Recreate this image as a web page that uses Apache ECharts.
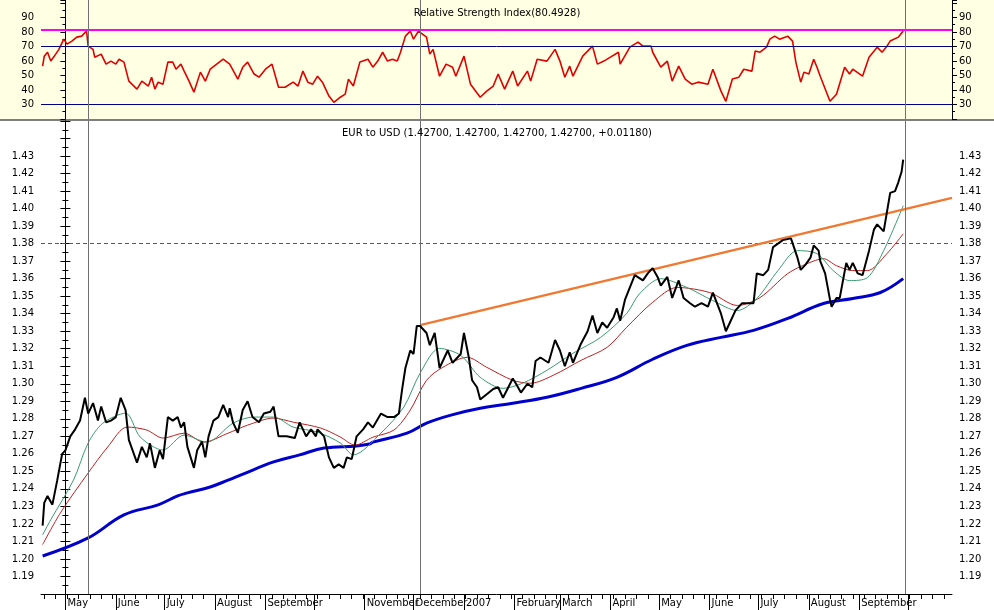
<!DOCTYPE html>
<html>
<head>
<meta charset="utf-8">
<script src="https://cdn.jsdelivr.net/npm/echarts@6/dist/echarts.min.js"></script>
<style>html,body{margin:0;padding:0;background:#fff}#chart{width:994px;height:610px}</style>
</head>
<body>
<div id="chart"></div>
<script>
// x values: calendar days counted from 2006-05-01
var price = [[-14,1.219],[-13,1.232],[-11,1.236],[-8,1.231],[-5,1.245],[-2,1.260],[0,1.262],[3,1.270],[6,1.274],[9,1.279],[12,1.292],[14,1.283],[17,1.289],[20,1.279],[22,1.287],[25,1.278],[28,1.279],[31,1.281],[34,1.292],[37,1.285],[39,1.268],[44,1.255],[47,1.264],[50,1.258],[52,1.266],[55,1.252],[58,1.262],[60,1.257],[63,1.281],[66,1.279],[69,1.281],[71,1.275],[73,1.278],[75,1.264],[79,1.252],[81,1.262],[84,1.267],[86,1.258],[88,1.270],[91,1.279],[94,1.281],[97,1.288],[100,1.281],[101,1.286],[103,1.278],[106,1.272],[109,1.285],[112,1.290],[115,1.281],[119,1.278],[122,1.283],[126,1.284],[128,1.287],[131,1.270],[136,1.270],[141,1.269],[144,1.278],[148,1.270],[151,1.274],[154,1.270],[155,1.274],[159,1.270],[162,1.258],[165,1.252],[168,1.254],[171,1.252],[173,1.258],[176,1.257],[179,1.270],[183,1.274],[186,1.278],[189,1.275],[194,1.283],[198,1.281],[202,1.281],[205,1.283],[207,1.297],[209,1.309],[212,1.319],[214,1.317],[216,1.333],[218,1.333],[222,1.329],[224,1.322],[227,1.329],[230,1.309],[235,1.319],[238,1.312],[243,1.317],[245,1.329],[248,1.315],[250,1.302],[253,1.298],[255,1.291],[259,1.294],[263,1.297],[266,1.298],[269,1.292],[275,1.303],[277,1.300],[280,1.295],[284,1.300],[287,1.298],[289,1.313],[292,1.315],[297,1.312],[301,1.325],[304,1.319],[307,1.310],[310,1.318],[312,1.312],[317,1.323],[321,1.330],[324,1.339],[327,1.329],[330,1.335],[333,1.332],[337,1.338],[339,1.343],[341,1.336],[344,1.348],[350,1.362],[355,1.359],[358,1.363],[361,1.366],[364,1.361],[366,1.356],[370,1.361],[373,1.349],[377,1.359],[380,1.349],[384,1.346],[387,1.344],[391,1.346],[395,1.344],[398,1.352],[403,1.340],[406,1.330],[409,1.336],[412,1.342],[416,1.346],[420,1.346],[423,1.346],[425,1.363],[429,1.362],[432,1.365],[435,1.378],[438,1.380],[441,1.382],[446,1.383],[447,1.383],[450,1.372],[452,1.365],[455,1.368],[458,1.372],[460,1.379],[463,1.376],[464,1.370],[467,1.363],[470,1.348],[471,1.344],[474,1.349],[476,1.349],[478,1.359],[480,1.369],[482,1.365],[484,1.369],[487,1.363],[490,1.362],[494,1.376],[497,1.388],[499,1.391],[503,1.387],[505,1.398],[507,1.409],[510,1.410],[512,1.415],[514,1.421],[515,1.428]];

var maFast = [[-14,1.2138],[-9,1.2224],[5,1.2451],[14,1.2662],[23,1.2775],[37,1.2832],[46,1.2696],[60,1.2622],[73,1.2707],[87,1.2667],[103,1.2775],[116,1.281],[128,1.281],[140,1.2753],[155,1.2724],[169,1.2662],[177,1.2594],[194,1.2719],[208,1.2867],[218,1.306],[230,1.3202],[243,1.3162],[255,1.3037],[269,1.2974],[281,1.3003],[296,1.3077],[312,1.3174],[329,1.3265],[345,1.3401],[353,1.3515],[366,1.36],[382,1.355],[398,1.3475],[413,1.3418],[425,1.3487],[438,1.3646],[450,1.376],[462,1.3743],[472,1.3646],[482,1.3589],[493,1.3606],[503,1.376],[515,1.4016]];

var maMid = [[-14,1.2082],[-3,1.2264],[14,1.2491],[26,1.2639],[38,1.2753],[50,1.2736],[60,1.269],[73,1.2718],[85,1.2667],[100,1.2718],[112,1.2764],[128,1.2804],[140,1.2781],[157,1.2747],[169,1.2696],[178,1.265],[189,1.2695],[202,1.2736],[212,1.285],[222,1.302],[232,1.3094],[247,1.3151],[259,1.3094],[275,1.302],[286,1.3003],[300,1.3049],[317,1.3134],[333,1.3208],[345,1.3322],[361,1.3465],[376,1.355],[396,1.3521],[413,1.3447],[427,1.3492],[444,1.3629],[456,1.3686],[466,1.3714],[474,1.3674],[484,1.3646],[493,1.3646],[505,1.3743],[515,1.3856]];

var maSlow = [[-14,1.2017],[14,1.212],[36,1.2252],[57,1.2309],[69,1.2360],[75,1.2377],[89,1.2411],[100,1.2450],[108,1.2480],[128,1.2554],[144,1.2594],[159,1.2633],[179,1.2645],[187,1.2656],[189,1.2667],[210,1.2718],[222,1.2775],[237,1.2821],[255,1.286],[275,1.2889],[296,1.2923],[317,1.2974],[339,1.3037],[361,1.3140],[382,1.3219],[403,1.3265],[423,1.3305],[444,1.3373],[466,1.3458],[484,1.3487],[501,1.3521],[515,1.36]];

var rsi = [[-14,56.4],[-13,63.3],[-11,66],[-9,60],[-7,63],[-4,68],[-1,75],[1,71.6],[4,73.7],[7,76.4],[10,77.1],[13,80.6],[14,70.2],[17,68],[18,62.6],[22,64.7],[25,57.8],[28,59.9],[31,57.8],[33,61.2],[36,59.2],[39,46.1],[44,40.6],[47,46.1],[51,42.7],[53,48.8],[55,40.6],[57,45.4],[60,44],[63,59.2],[66,59.2],[68,54.3],[71,57.8],[73,53],[76,46.1],[79,38.5],[83,52.3],[86,46.1],[89,54.3],[93,57.8],[97,61.2],[101,57.8],[106,47.5],[109,55.7],[112,59.2],[116,51],[119,48.8],[123,54.3],[127,57.8],[131,41.9],[135,41.9],[140,45.4],[143,42.7],[146,53],[149,45.4],[152,44],[155,49.5],[158,45.4],[162,35.8],[165,31.5],[169,35],[172,37.1],[174,47.5],[177,42.7],[181,59.2],[186,61.2],[189,55.7],[192,59.9],[195,66],[198,59.9],[201,61.2],[204,59.9],[206,66],[209,77.1],[212,80.6],[214,75],[217,80.6],[222,76.4],[224,64.7],[226,68],[230,49.5],[234,57.8],[238,55.7],[240,49.5],[245,63.3],[249,44],[255,35],[259,39.2],[263,42.7],[266,51],[270,40.6],[275,53],[278,42.7],[284,53],[286,46.1],[290,61.2],[296,59.9],[301,68],[304,59.9],[307,48.8],[310,56.4],[312,49.5],[318,63.3],[324,70.2],[327,57.8],[331,59.9],[335,62.6],[340,66],[341,57.8],[347,69.5],[352,73],[355,70.2],[360,70.2],[361,66],[366,55.7],[370,59.9],[373,46.1],[377,56.4],[381,47.5],[385,44],[389,45.4],[395,44],[398,54.3],[403,39.2],[406,32.2],[410,47.5],[414,48.8],[417,54.3],[422,53],[424,66.8],[427,66],[431,69.5],[433,75],[436,77.1],[439,75],[444,77.1],[447,73.7],[449,59.2],[452,45.4],[454,52.3],[457,51],[460,61.2],[462,55.7],[464,49.5],[470,32.2],[474,37.1],[479,55.7],[482,51],[484,54.3],[490,49.5],[494,62.6],[499,69.5],[502,66],[505,70.2],[507,73.7],[512,76.4],[515,80.6]];

var monthDays = [0,31,61,92,123,153,184,214,245,276,304,335,365,396,426,457,488,518];
var monthNames = ['May','June','July','August','September','','November','December','2007','February','March','April','May','June','July','August','September',''];
var markDays = [14, 218, 516];
var xMin = -15, xMax = 545;

var weekDays = [];
for (var d = -13; d <= xMax; d += 7) weekDays.push(d);

var myChart = echarts.init(document.getElementById('chart'));
var font = 'DejaVu Sans';
var lbl = { color: '#000', fontSize: 10, fontFamily: font };

function xAx(grid, withLabels) {
    return {
        type: 'value', gridIndex: grid, min: xMin, max: xMax,
        axisLine: { show: withLabels, lineStyle: { color: '#000' } },
        axisTick: { show: false },
        axisLabel: { show: false },
        splitLine: { show: false }
    };
}
function yAx(grid, pos, min, max, interval, hide) {
    return {
        type: 'value', gridIndex: grid, position: pos, min: min, max: max, interval: interval,
        axisLine: { show: true, lineStyle: { color: '#000' } },
        axisTick: { show: true, length: 5, lineStyle: { color: '#000' } },
        minorTick: { show: true, splitNumber: 2, length: 3, lineStyle: { color: '#000' } },
        axisLabel: Object.assign({}, lbl, { margin: 7, formatter: function (v) {
            return hide(v) ? '' : (interval < 1 ? v.toFixed(2) : String(v));
        } }),
        splitLine: { show: false }
    };
}

var option = {
    animation: false,
    backgroundColor: '#fff',
    graphic: [
        { type: 'rect', z: -10, shape: { x: 0, y: 0, width: 994, height: 120 }, style: { fill: '#FFFFE3' } },
        { type: 'line', z: 10, shape: { x1: 0, y1: 120, x2: 994, y2: 120 }, style: { stroke: '#000', lineWidth: 1 } }
    ],
    title: [
        { text: 'Relative Strength Index(80.4928)', left: 'center', top: 3, textStyle: { fontSize: 10, fontWeight: 'normal', fontFamily: font, color: '#000' } },
        { text: 'EUR to USD (1.42700, 1.42700, 1.42700, 1.42700, +0.01180)', left: 'center', top: 123, textStyle: { fontSize: 10, fontWeight: 'normal', fontFamily: font, color: '#000' } }
    ],
    grid: [
        { left: 41, right: 42, top: 0, height: 119 },
        { left: 41, right: 42, top: 121, bottom: 16 }
    ],
    xAxis: [
        xAx(0, false),
        xAx(1, true),
        { // weekly ticks
            type: 'value', gridIndex: 1, min: xMin, max: xMax, position: 'bottom',
            axisLine: { show: false },
            axisTick: { show: true, length: 5, customValues: weekDays, lineStyle: { color: '#000' } },
            axisLabel: { show: false }, splitLine: { show: false }
        },
        { // month ticks + names
            type: 'value', gridIndex: 1, min: xMin, max: xMax, position: 'bottom',
            axisLine: { show: false },
            axisTick: { show: true, length: 16, customValues: monthDays, lineStyle: { color: '#000' } },
            axisLabel: Object.assign({}, lbl, {
                customValues: monthDays, align: 'left', margin: 4, padding: [0, 0, 0, 2],
                formatter: function (v) { return monthNames[monthDays.indexOf(v)] || ''; }
            }),
            splitLine: { show: false }
        }
    ],
    yAxis: [
        yAx(0, 'left', 20, 102, 10, function (v) { return v < 30 || v > 90; }),
        yAx(0, 'right', 20, 102, 10, function (v) { return v < 30 || v > 90; }),
        yAx(1, 'left', 1.18, 1.45, 0.01, function (v) { return v < 1.185 || v > 1.435; }),
        yAx(1, 'right', 1.18, 1.45, 0.01, function (v) { return v < 1.185 || v > 1.435; })
    ],
    series: [
        {
            name: 'RSI', type: 'line', xAxisIndex: 0, yAxisIndex: 0, data: rsi, showSymbol: false,
            lineStyle: { color: '#E00000', width: 1.6 },
            markLine: {
                silent: true, symbol: 'none', label: { show: false },
                data: [
                    { yAxis: 81.5, lineStyle: { color: '#FF00FF', width: 2, type: 'solid' } },
                    { yAxis: 70, lineStyle: { color: '#000080', width: 1, type: 'solid' } },
                    { yAxis: 30, lineStyle: { color: '#000080', width: 1, type: 'solid' } }
                ].concat(markDays.map(function (d) { return { xAxis: d, lineStyle: { color: '#707070', width: 1, type: 'solid' } }; }))
            }
        },
        {
            name: 'MA long', type: 'line', xAxisIndex: 1, yAxisIndex: 2, data: maSlow, showSymbol: false, smooth: 0.4,
            lineStyle: { color: '#0000CC', width: 3 }
        },
        {
            name: 'MA mid', type: 'line', xAxisIndex: 1, yAxisIndex: 2, data: maMid, showSymbol: false, smooth: 0.3,
            lineStyle: { color: '#C02020', width: 1 }
        },
        {
            name: 'MA fast', type: 'line', xAxisIndex: 1, yAxisIndex: 2, data: maFast, showSymbol: false, smooth: 0.3,
            lineStyle: { color: '#3A9A70', width: 1 }
        },
        {
            name: 'EUR to USD', type: 'line', xAxisIndex: 1, yAxisIndex: 2, data: price, showSymbol: false, z: 5,
            lineStyle: { color: '#000', width: 2 },
            markLine: {
                silent: true, symbol: 'none', label: { show: false },
                data: [
                    { yAxis: 1.3835, lineStyle: { color: '#E02020', width: 1, type: [4, 3] } },
                    [{ coord: [218, 1.3335], lineStyle: { color: '#F07830', width: 2.5, type: 'solid' } }, { coord: [545, 1.4061] }]
                ].concat(markDays.map(function (d) { return { xAxis: d, lineStyle: { color: '#707070', width: 1, type: 'solid' } }; }))
            }
        }
    ]
};
myChart.setOption(option);
</script>
</body>
</html>
